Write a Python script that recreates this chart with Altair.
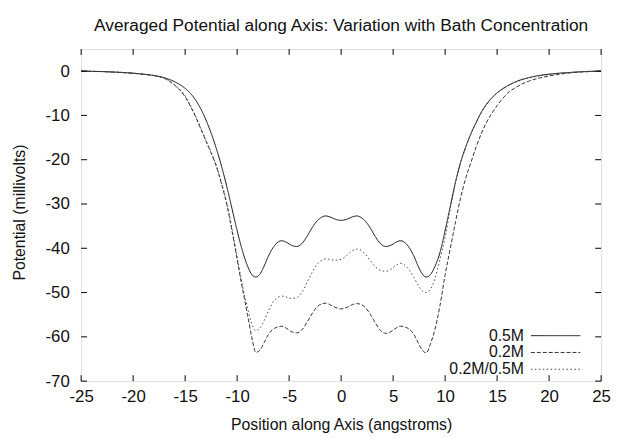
import altair as alt
import pandas as pd

# ---------------- data ----------------
title_text = "Averaged Potential along Axis: Variation with Bath Concentration"
x_title = "Position along Axis (angstroms)"
y_title = "Potential (millivolts)"
series_names = ["0.5M", "0.2M", "0.2M/0.5M"]
x_ticks = [-25, -20, -15, -10, -5, 0, 5, 10, 15, 20, 25]
y_ticks = [0, -10, -20, -30, -40, -50, -60, -70]

# 0.5M (solid)
s05_x = [-25, -24, -23, -22, -21, -20, -19, -18, -17, -16, -15, -14.5, -14, -13.5, -13, -12.5,
         -12, -11.5, -11, -10.5, -10, -9.5, -9, -8.6, -8.2, -7.8, -7.4, -7, -6.5, -6, -5.7,
         -5.3, -4.8, -4.3, -3.8, -3.3, -2.8, -2.3, -1.8, -1.5, -1.1, -0.6, 0,
         0.6, 1.1, 1.5, 1.8, 2.3, 2.8, 3.3, 3.8, 4.3, 4.8, 5.3, 5.7, 6, 6.5, 7, 7.4, 7.8,
         8.2, 8.6, 9, 9.5, 10, 10.5, 11, 11.5, 12, 12.5, 13, 13.5, 14, 14.5, 15, 16, 17,
         18, 19, 20, 21, 22, 23, 24, 25]
s05_y = [0, -0.05, -0.1, -0.2, -0.3, -0.45, -0.7, -1.0, -1.5, -2.4, -3.9, -5.0, -6.5, -8.5, -11, -14,
         -17.5, -21.5, -26, -31, -36, -40.5, -44, -45.9, -46.5, -45.8, -44, -41.8, -39.7, -38.5, -38.3,
         -38.6, -39.3, -39.6, -39.0, -37.4, -35.4, -33.8, -32.9, -32.7, -32.9, -33.4, -33.7,
         -33.4, -32.9, -32.7, -32.9, -33.8, -35.4, -37.4, -39.0, -39.6, -39.3, -38.6, -38.3, -38.5, -39.7, -41.8, -44, -45.8,
         -46.5, -45.9, -44.2, -41, -36, -30.5, -25, -20.5, -17, -14, -11.5, -9.2, -7.4, -6, -4.9, -3.3, -2.2,
         -1.5, -1.0, -0.7, -0.45, -0.3, -0.15, -0.05, 0]

# 0.2M (dashed)
s02_x = [-25, -24, -23, -22, -21, -20, -19, -18, -17, -16, -15, -14.5, -14, -13.5, -13, -12.5,
         -12, -11.5, -11, -10.5, -10, -9.5, -9, -8.6, -8.2, -7.8, -7.4, -7, -6.5, -6, -5.7,
         -5.3, -4.8, -4.3, -3.8, -3.3, -2.8, -2.3, -1.8, -1.5, -1.1, -0.6, 0,
         0.6, 1.1, 1.5, 1.8, 2.3, 2.8, 3.3, 3.8, 4.3, 4.8, 5.3, 5.7, 6, 6.5, 7, 7.4, 7.8,
         8.2, 8.6, 9, 9.5, 10, 10.5, 11, 11.5, 12, 12.5, 13, 13.5, 14, 14.5, 15, 16, 17,
         18, 19, 20, 21, 22, 23, 24, 25]
s02_y = [0, -0.05, -0.1, -0.2, -0.35, -0.5, -0.7, -1.0, -1.6, -3.2, -5.8, -7.9, -10.3, -13, -15.8, -18.5,
         -21.5, -25.5, -30, -36, -42.5, -49, -55, -60, -63.5, -63, -61.3, -59.5, -58.2, -57.7, -57.6,
         -58, -58.8, -59.1, -58.5, -56.8, -54.8, -53.2, -52.5, -52.4, -52.7, -53.3, -53.7,
         -53.3, -52.7, -52.5, -52.6, -53.3, -54.9, -56.9, -58.6, -59.2, -58.8, -58, -57.6, -57.7, -58.2, -59.5, -61.3, -63,
         -63.6, -61.5, -58.5, -53, -46, -40, -34, -28.5, -24, -20.5, -17, -14, -11.5, -9.5, -7.8, -5.0, -3.4,
         -2.3, -1.6, -1.1, -0.7, -0.4, -0.2, -0.1, 0]

# 0.2M/0.5M (dotted)
s25_x = [-25, -24, -23, -22, -21, -20, -19, -18, -17, -16, -15, -14.5, -14, -13.5, -13, -12.5,
         -12, -11.5, -11, -10.5, -10, -9.5, -9, -8.6, -8.2, -7.8, -7.4, -7, -6.5, -6, -5.7,
         -5.3, -4.8, -4.3, -3.8, -3.3, -2.8, -2.3, -1.8, -1.5, -1.1, -0.6, 0,
         0.6, 1.1, 1.5, 1.8, 2.3, 2.8, 3.3, 3.8, 4.3, 4.8, 5.3, 5.7, 6, 6.5, 7, 7.4, 7.8,
         8.2, 8.6, 9, 9.5, 10, 10.5, 11, 11.5, 12, 12.5, 13, 13.5, 14, 14.5, 15, 16, 17,
         18, 19, 20, 21, 22, 23, 24, 25]
s25_y = [0, -0.05, -0.1, -0.2, -0.3, -0.5, -0.7, -1.0, -1.6, -3.1, -5.6, -7.7, -10.1, -12.8, -15.6, -18.3,
         -21.3, -25.2, -29.7, -35.5, -42, -48.3, -53.5, -57, -58.6, -58, -56.3, -54.2, -52, -51, -50.8,
         -51, -51.3, -51.2, -50, -47.8, -45.5, -43.6, -42.6, -42.4, -42.5, -42.7, -42.5,
         -41.5, -40.5, -40.2, -40.3, -41.3, -42.8, -44.2, -45, -45.2, -44.7, -43.8, -43.4, -43.6, -44.8, -46.6, -48.3, -49.6,
         -50, -49.2, -47, -42.5, -37.5, -31, -25.3, -20.7, -17.1, -14.1, -11.6, -9.3, -7.5, -6.1, -5.0, -3.4, -2.3,
         -1.6, -1.1, -0.75, -0.5, -0.3, -0.15, -0.05, 0]

rows = []
for name, xs, ys in zip(series_names, [s05_x, s02_x, s25_x], [s05_y, s02_y, s25_y]):
    for xv, yv in zip(xs, ys):
        rows.append({"series": name, "x": xv, "y": yv})
df = pd.DataFrame(rows)

# ---------------- styling ----------------
FONT = "Liberation Sans"
FS_LABEL = 17
FS_TITLE = 17.5
FS_AXTITLE = 16
FS_KEY = 16
W, H = 526, 336
TICK = 6
dashes = [[1, 0], [4, 2], [1.5, 2.5]]
colors = ["#111111", "#333333", "#444444"]
plain_label = "'' + datum.value"

xscale = alt.Scale(domain=[-25, 25], nice=False, zero=False)
yscale = alt.Scale(domain=[-70, 5], nice=False, zero=False)

lines = alt.Chart(df).mark_line(interpolate="monotone", strokeWidth=1, clip=True).encode(
    x=alt.X("x:Q", scale=xscale,
            axis=alt.Axis(values=x_ticks, title=x_title, domain=False, ticks=False, tickSize=0,
                          grid=False, labelPadding=8, labelFont=FONT, labelFontSize=FS_LABEL,
                          labelColor="#111", titleFont=FONT, titleFontSize=FS_AXTITLE,
                          titleFontWeight="normal", titleColor="#111", labelExpr=plain_label,
                          titleY=44, titleBaseline="middle", labelFlush=False)),
    y=alt.Y("y:Q", scale=yscale,
            axis=alt.Axis(values=y_ticks, title=y_title, domain=False, ticks=False, tickSize=0,
                          grid=False, labelPadding=12, labelFont=FONT, labelFontSize=FS_LABEL,
                          labelColor="#111", titleFont=FONT, titleFontSize=FS_AXTITLE,
                          titleFontWeight="normal", titleColor="#111", labelExpr=plain_label,
                          titleX=-62, titleY=H / 2 - 3, titleAngle=270, titleAlign="center",
                          titleBaseline="middle", labelFlush=False)),
    strokeDash=alt.StrokeDash("series:N", scale=alt.Scale(domain=series_names, range=dashes), legend=None),
    color=alt.Color("series:N", scale=alt.Scale(domain=series_names, range=colors), legend=None),
    order="x:Q",
)

xt = pd.DataFrame({"v": x_ticks})
yt = pd.DataFrame({"v": y_ticks})
tick_b = alt.Chart(xt).mark_rule(color="black", strokeWidth=1).encode(
    x=alt.X("v:Q", scale=xscale), y=alt.value(H), y2=alt.value(H - TICK))
tick_t = alt.Chart(xt).mark_rule(color="black", strokeWidth=1).encode(
    x=alt.X("v:Q", scale=xscale), y=alt.value(0), y2=alt.value(TICK))
tick_l = alt.Chart(yt).mark_rule(color="black", strokeWidth=1).encode(
    y=alt.Y("v:Q", scale=yscale), x=alt.value(0), x2=alt.value(TICK))
tick_r = alt.Chart(yt).mark_rule(color="black", strokeWidth=1).encode(
    y=alt.Y("v:Q", scale=yscale), x=alt.value(W), x2=alt.value(W - TICK))

# manual gnuplot-style key (label left of sample line)
leg_layers = []
leg_rows_y = [290, 307, 324]
for name, ry, dsh, col in zip(series_names, leg_rows_y, dashes, colors):
    one = pd.DataFrame({"series": [name]})
    leg_layers.append(alt.Chart(one).mark_text(align="right", baseline="middle", font=FONT,
                                               fontSize=FS_KEY, color="#111").encode(
        text="series:N", x=alt.value(448), y=alt.value(ry)))
    leg_layers.append(alt.Chart(one).mark_rule(strokeWidth=1, color=col, strokeDash=dsh).encode(
        x=alt.value(455), x2=alt.value(505), y=alt.value(ry)))

chart = alt.layer(lines, tick_b, tick_t, tick_l, tick_r, *leg_layers).properties(
    width=W, height=H,
    title=alt.TitleParams(text=title_text, font=FONT, fontSize=FS_TITLE, fontWeight="normal",
                          color="#111", anchor="middle", offset=14),
    padding={"left": 74, "top": 39, "right": 10, "bottom": 50},
    autosize=alt.AutoSizeParams(type="none"),
).configure_view(stroke="black", strokeWidth=1).configure(background="white")

chart.save("out.html", embed_options={"renderer": "svg", "actions": False})
